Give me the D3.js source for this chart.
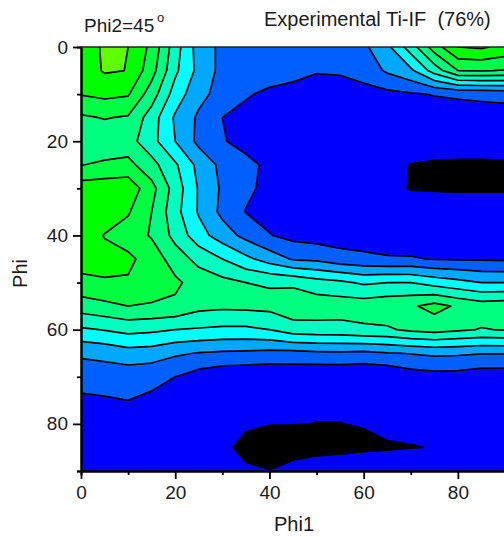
<!DOCTYPE html>
<html>
<head>
<meta charset="utf-8">
<script src="https://cdn.jsdelivr.net/npm/d3@7"></script>
<style>
  html, body { margin: 0; padding: 0; background: #fff; }
  svg text { font-family: "Liberation Sans", Arial, sans-serif; fill: #1a1a1a; }
</style>
</head>
<body>
<svg id="chart" width="504" height="537"></svg>
<script>
// ODF section. Rows are Phi 0..90, columns Phi1 0..90, 5 degree steps.
const phi1Values = d3.range(0, 95, 5);
const phiValues = d3.range(0, 95, 5);
const intensity = [
  [7.43, 8.15, 8.0, 6.75, 4.45, 2.55, 1.77, 1.6, 1.5, 1.45, 1.45, 1.55, 1.8, 2.75, 4.5, 6.5, 8.0, 8.15, 7.7],
  [7.4, 8.1, 7.98, 6.4, 4.2, 2.7, 1.7, 1.55, 1.5, 1.46, 1.06, 1.1, 1.4, 2.15, 2.8, 4.45, 6.0, 6.05, 5.95],
  [7.05, 7.25, 7.1, 5.5, 3.55, 2.3, 1.63, 1.1, 0.8, 0.5, 0.6, 0.6, 0.65, 0.75, 0.9, 1.05, 1.15, 1.25, 1.35],
  [5.85, 6.05, 5.9, 4.5, 2.85, 1.83, 1.0, 0.7, 0.55, 0.45, 0.42, 0.4, 0.4, 0.42, 0.42, 0.42, 0.45, 0.45, 0.45],
  [5.3, 5.4, 5.4, 4.35, 3.0, 1.75, 1.07, 0.7, 0.5, 0.4, 0.3, 0.3, 0.3, 0.3, 0.25, 0.2, 0.2, 0.2, 0.2],
  [5.97, 6.15, 6.3, 5.35, 4.15, 2.7, 1.73, 1.25, 0.8, 0.45, 0.3, 0.25, 0.2, 0.12, -0.01, -0.05, -0.06, -0.06, -0.05],
  [7.5, 7.6, 7.65, 6.35, 4.55, 2.9, 1.85, 1.15, 0.8, 0.4, 0.3, 0.25, 0.2, 0.12, -0.02, -0.03, -0.04, -0.04, -0.04],
  [7.7, 7.65, 7.1, 6.0, 4.35, 2.9, 1.75, 0.97, 0.65, 0.45, 0.35, 0.3, 0.3, 0.25, 0.2, 0.2, 0.2, 0.2, 0.2],
  [7.7, 6.95, 6.55, 5.9, 4.7, 3.4, 2.5, 1.7, 1.05, 0.7, 0.55, 0.5, 0.45, 0.45, 0.4, 0.4, 0.4, 0.4, 0.4],
  [7.4, 7.35, 7.2, 6.6, 5.5, 4.7, 4.0, 3.25, 2.55, 1.9, 1.8, 1.4, 1.25, 1.1, 1.08, 0.95, 0.92, 0.9, 0.85],
  [6.75, 6.9, 6.9, 6.55, 6.2, 5.55, 5.3, 5.0, 4.9, 4.8, 4.4, 4.2, 3.85, 4.0, 4.0, 3.6, 3.3, 3.0, 3.0],
  [5.5, 5.75, 6.0, 5.9, 5.8, 5.3, 5.2, 5.25, 5.3, 5.7, 5.6, 5.55, 5.55, 5.7, 5.85, 6.35, 5.85, 5.5, 5.6],
  [3.85, 4.05, 4.3, 4.2, 4.0, 3.9, 3.8, 3.8, 4.0, 4.5, 4.6, 4.6, 4.8, 4.86, 5.2, 5.35, 5.15, 4.95, 5.05],
  [2.15, 2.3, 2.6, 2.5, 2.15, 1.95, 1.85, 1.8, 1.7, 1.7, 1.8, 1.85, 1.75, 1.95, 2.05, 2.2, 2.15, 2.05, 2.05],
  [1.45, 1.45, 1.4, 1.3, 1.0, 0.55, 0.25, 0.2, 0.15, 0.2, 0.1, 0.1, 0.05, 0.1, 0.5, 0.62, 0.6, 0.4, 0.4],
  [0.8, 0.9, 1.0, 0.8, 0.7, 0.45, 0.3, 0.15, 0.15, 0.15, 0.1, 0.1, 0.1, 0.2, 0.3, 0.4, 0.4, 0.4, 0.35],
  [0.6, 0.6, 0.7, 0.55, 0.5, 0.35, 0.3, 0.15, 0.03, 0.02, -0.01, -0.01, 0.05, 0.3, 0.2, 0.4, 0.4, 0.45, 0.4],
  [0.45, 0.45, 0.5, 0.4, 0.35, 0.3, 0.25, -0.3, -0.5, -0.5, -0.45, -0.35, -0.2, -0.12, -0.03, 0.03, 0.4, 0.5, 0.5],
  [0.4, 0.4, 0.4, 0.35, 0.3, 0.25, 0.2, 0.17, 0.03, 0.43, 0.8, 0.9, 0.9, 0.9, 0.9, 0.9, 0.85, 0.85, 0.8]
];
const levels = [0, 1, 2, 3, 4, 5, 6, 7, 8];
const bandColors = ["#0000ff", "#0060ff", "#00a8ff", "#00ffff", "#00ffc0", "#00ff80", "#00ff40", "#00ff00", "#60ff00"];
const belowColor = "#000000";
const majorTicks = [0, 20, 40, 60, 80];
const minorTicks = [10, 30, 50, 70, 90];

const svg = d3.select("#chart");
const x = d3.scaleLinear().domain([0, 90]).range([81, 505]);
const y = d3.scaleLinear().domain([0, 90]).range([47, 471]);

// d3.contours closes shapes on the grid edge, so repeat the border values once
// outside the frame and clip it off again.
const nx = phi1Values.length + 2;
const ny = phiValues.length + 2;
const grid = [];
for (let j = 0; j < ny; j++) {
  const row = intensity[Math.min(Math.max(j - 1, 0), phiValues.length - 1)];
  for (let i = 0; i < nx; i++) {
    grid.push(row[Math.min(Math.max(i - 1, 0), phi1Values.length - 1)]);
  }
}
const contours = d3.contours().size([nx, ny]).thresholds(levels)(grid);

// grid cell i + 0.5 holds padded column i, which is Phi1 = (i - 1) * 5
const path = d3.geoPath(d3.geoTransform({
  point(px, py) { this.stream.point(x((px - 1.5) * 5), y((py - 1.5) * 5)); }
}));

svg.append("clipPath").attr("id", "plot-clip").append("rect")
  .attr("x", x(0)).attr("y", y(0))
  .attr("width", x(90) - x(0)).attr("height", y(90) - y(0));

const plot = svg.append("g").attr("clip-path", "url(#plot-clip)");
plot.append("rect")
  .attr("x", x(0)).attr("y", y(0))
  .attr("width", x(90) - x(0)).attr("height", y(90) - y(0))
  .attr("fill", belowColor);
plot.selectAll("path")
  .data(contours)
  .join("path")
  .attr("d", path)
  .attr("fill", (d, i) => bandColors[i])
  .attr("stroke", "#000")
  .attr("stroke-width", 1.7)
  .attr("stroke-linejoin", "round");

// Axes
function styleAxis(g) {
  g.selectAll("line").attr("stroke", "#000").attr("stroke-width", 1.8);
  g.selectAll(".domain").attr("stroke", "#000").attr("stroke-width", 2);
  g.selectAll("text").attr("font-size", 19).attr("fill", "#1a1a1a")
    .attr("font-family", '"Liberation Sans", Arial, sans-serif');
}

svg.append("g").attr("transform", `translate(0,${y(90)})`)
  .call(d3.axisBottom(x).tickValues(minorTicks).tickSize(4).tickFormat(""))
  .call(styleAxis);
svg.append("g").attr("transform", `translate(0,${y(90)})`)
  .call(d3.axisBottom(x).tickValues(majorTicks).tickSize(8).tickSizeOuter(0).tickPadding(7))
  .call(styleAxis);
svg.append("g").attr("transform", `translate(${x(0)},0)`)
  .call(d3.axisLeft(y).tickValues(minorTicks).tickSize(4).tickFormat(""))
  .call(styleAxis);
svg.append("g").attr("transform", `translate(${x(0)},0)`)
  .call(d3.axisLeft(y).tickValues(majorTicks).tickSize(8).tickSizeOuter(0).tickPadding(5))
  .call(styleAxis);

// Thin top frame line
svg.append("line")
  .attr("x1", x(0)).attr("x2", 504).attr("y1", y(0)).attr("y2", y(0))
  .attr("stroke", "#222").attr("stroke-width", 1.4);

// Titles
svg.append("text").attr("x", 294).attr("y", 531).attr("text-anchor", "middle")
  .attr("font-size", 20).text("Phi1");
svg.append("text").attr("transform", "translate(27,273.5) rotate(-90)").attr("text-anchor", "middle")
  .attr("font-size", 20).text("Phi");
svg.append("text").attr("x", 84).attr("y", 32).attr("font-size", 19).text("Phi2=45");
svg.append("text").attr("x", 157).attr("y", 22).attr("font-size", 13).text("o");
svg.append("text").attr("x", 264).attr("y", 26).attr("font-size", 20).text("Experimental Ti-IF\u00a0\u00a0(76%)");
</script>
</body>
</html>
